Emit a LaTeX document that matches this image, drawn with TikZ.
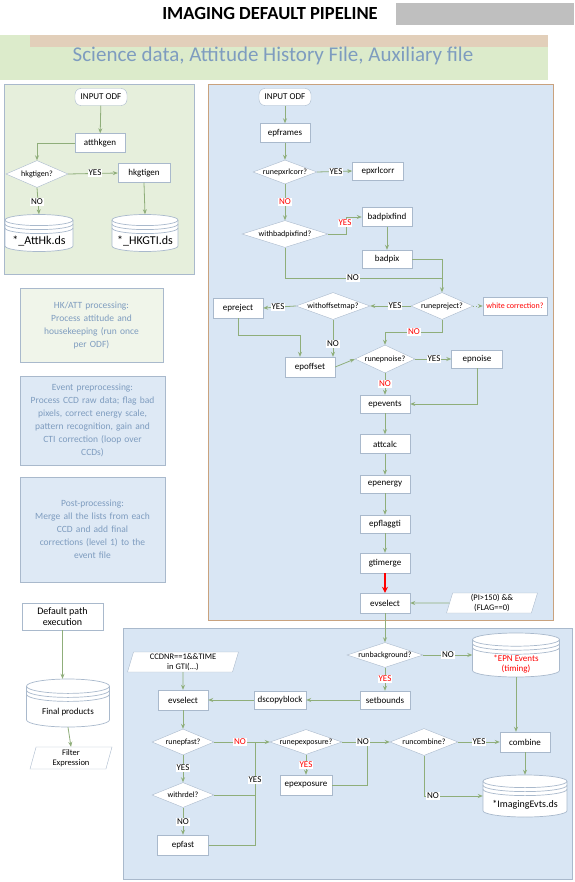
\documentclass[tikz,border=0pt]{standalone}
\usepackage{fontspec}
\setmainfont{Carlito}
\usetikzlibrary{shapes.geometric,arrows.meta}
\definecolor{boxc}{HTML}{A9B9CC}
\definecolor{linec}{HTML}{8FAE7A}
\definecolor{panelblue}{HTML}{D9E6F4}
\definecolor{panelgreen}{HTML}{E6EFDC}
\definecolor{txtblue}{HTML}{7E9CBF}
\definecolor{bannerg}{HTML}{DCEBCB}
\definecolor{bannert}{HTML}{E2CFBA}
\definecolor{titlegrey}{HTML}{BFBFBF}
\newcommand\zw[1]{\makebox[0pt][c]{#1}}
\tikzset{
  box/.style={draw=boxc, fill=white, minimum width=50, minimum height=19, inner sep=1pt, font=\fontsize{9}{10}\selectfont},
  term/.style={box, rounded corners=6pt},
  dia/.style={diamond, aspect=1, draw=boxc, fill=white, inner sep=0pt, font=\fontsize{8}{9}\selectfont},
  para/.style={trapezium, trapezium left angle=72, trapezium right angle=108, trapezium stretches body, draw=boxc, fill=white, inner sep=1pt, align=center, font=\fontsize{8.5}{9.5}\selectfont},
  note/.style={draw=boxc, text=txtblue, align=center, inner sep=3pt, font=\fontsize{9.5}{13}\selectfont},
  lab/.style={fill=white, inner sep=1pt, font=\fontsize{9}{10}\selectfont},
  redlab/.style={lab, text=red},
  arr/.style={draw=linec, line width=0.8pt, -{Stealth[length=5pt,width=4pt]}},
  ln/.style={draw=linec, line width=0.8pt},
}
\newcommand\dbcyl[7]{%
  \pgfmathsetmacro\crx{#4/2}%
  \pgfmathsetmacro\cry{#5*0.15}%
  \pgfmathsetmacro\chh{#5/2}%
  \begin{scope}[shift={(#2,#3)}]
    \draw[draw=boxc, fill=white, line width=0.7pt]
      (-\crx,{-\chh+\cry}) -- (-\crx,{\chh-\cry})
      .. controls (-\crx,{\chh-\cry+0.5523*\cry}) and ({-0.5523*\crx},\chh) .. (0,\chh)
      .. controls ({0.5523*\crx},\chh) and (\crx,{\chh-\cry+0.5523*\cry}) .. (\crx,{\chh-\cry})
      -- (\crx,{-\chh+\cry})
      .. controls (\crx,{-\chh+\cry-0.5523*\cry}) and ({0.5523*\crx},-\chh) .. (0,-\chh)
      .. controls ({-0.5523*\crx},-\chh) and (-\crx,{-\chh+\cry-0.5523*\cry}) .. cycle;
    \foreach \o in {0,4,8}{
      \draw[draw=boxc, line width=0.7pt]
        (-\crx,{-\chh+\cry+\o})
        .. controls (-\crx,{-\chh+\cry+0.5523*\cry+\o}) and ({-0.5523*\crx},{-\chh+2*\cry+\o}) .. (0,{-\chh+2*\cry+\o})
        .. controls ({0.5523*\crx},{-\chh+2*\cry+\o}) and (\crx,{-\chh+\cry+0.5523*\cry+\o}) .. (\crx,{-\chh+\cry+\o});
    }
  \end{scope}
  \node[minimum width=#4, minimum height=#5, inner sep=0pt] (#1) at (#2,#3) {};
  \node[align=center, font=#7] (#1t) at (#2,{#3+\cry+2}) {#6};
}
\begin{document}
\begin{tikzpicture}[x=1pt,y=-1pt]
\useasboundingbox (0,0) rectangle (574,882);
\fill[white] (0,0) rectangle (574,882);

% title
\fill[titlegrey] (395,3) rectangle (574,25);
\draw[draw=white, fill=white] (148,3) rectangle (395,26);
\node[font=\fontsize{18.5}{20}\selectfont\bfseries] (title) at (270,14) {IMAGING DEFAULT PIPELINE};

% banner
\fill[bannerg] (0,35) rectangle (548,80);
\fill[bannert] (30,35) rectangle (548,47);
\node[text=txtblue, font=\fontsize{21}{23}\selectfont] (banner) at (273,56) {Science data, Attitude History File, Auxiliary file};

% panels
\draw[draw=boxc, fill=panelgreen] (4,84) rectangle (194,274);
\draw[draw={rgb,255:red,201;green,162;blue,126}, fill=panelblue] (208,84) rectangle (553,620);
\draw[draw=boxc, fill=panelblue] (123,628) rectangle (572,879);

% ---------- left top panel ----------
\node[term, minimum width=52, minimum height=17] (inodf1) at (101,97) {INPUT ODF};
\node[box] (atthk) at (100,143) {atthkgen};
\node[dia, minimum width=62, minimum height=27] (dHK) at (37,174) {\zw{hkgtigen?}};
\node[box, minimum width=52] (hkgti) at (144,173) {hkgtigen};
\dbcyl{cyl1}{39}{233}{68}{37}{*\_AttHk.ds}{\fontsize{12}{13}\selectfont}
\dbcyl{cyl2}{145}{233}{66}{37}{*\_HKGTI.ds}{\fontsize{12}{13}\selectfont}

% ---------- left notes ----------
\node[note, fill={rgb,255:red,240;green,245;blue,234}, minimum width=143, minimum height=74, text width=135] (tb1) at (91.5,325)
  {HK/ATT processing:\\ Process attitude and\\ housekeeping (run once\\ per ODF)};
\node[note, fill={rgb,255:red,222;green,233;blue,245}, minimum width=145, minimum height=89, text width=137] (tb2) at (92.5,420.5)
  {Event preprocessing:\\ Process CCD raw data; flag bad\\ pixels, correct energy scale,\\ pattern recognition, gain and\\ CTI correction (loop over\\ CCDs)};
\node[note, fill={rgb,255:red,222;green,233;blue,245}, minimum width=145, minimum height=105, text width=137] (tb3) at (92.5,529.5)
  {Post-processing:\\ Merge all the lists from each\\ CCD and add final\\ corrections (level 1) to the\\ event file};

% ---------- left bottom ----------
\node[box, minimum width=81, minimum height=27, align=center, font=\fontsize{10}{11}\selectfont] (defpath) at (62.5,616.5) {Default path\\ execution};
\dbcyl{cyl3}{68}{703}{83}{48}{Final products}{\fontsize{9}{10}\selectfont}
\node[para, minimum width=82, minimum height=22] (filt1) at (71,758) {Filter\\ Expression};

% ---------- main panel ----------
\node[term, minimum width=52, minimum height=17] (inodf2) at (285,97) {INPUT ODF};
\node[box] (epfr) at (285,133) {epframes};
\node[dia, minimum width=64, minimum height=24] (d1) at (285,172) {\zw{runepxrlcorr?}};
\node[box, minimum width=51, minimum height=18] (xrl) at (378,171) {epxrlcorr};
\node[dia, minimum width=86, minimum height=27] (d2) at (285,234) {\zw{withbadpixfind?}};
\node[box] (bpf) at (387,217) {badpixfind};
\node[box, minimum height=18] (bp) at (387,259) {badpix};
\node[box, minimum height=20] (epre) at (238,308) {epreject};
\node[dia, minimum width=74, minimum height=27] (d3) at (333,306) {\zw{withoffsetmap?}};
\node[dia, minimum width=62, minimum height=27] (d4) at (442,306) {\zw{runepreject?}};
\node[box, minimum width=64, minimum height=18, text=red, font=\fontsize{8}{9}\selectfont] (wc) at (515,306) {white correction?};
\node[box, minimum height=20] (eoff) at (310,367) {epoffset};
\node[dia, minimum width=60, minimum height=28] (d5) at (385,359) {\zw{runepnoise?}};
\node[box, minimum width=51, minimum height=18] (noise) at (477,359) {epnoise};
\node[box, minimum height=18] (evts) at (385,404) {epevents};
\node[box] (attc) at (385,444) {attcalc};
\node[box, minimum height=18] (ener) at (385,484) {epenergy};
\node[box, minimum height=18] (flag) at (385,524) {epflaggti};
\node[box, minimum height=20] (gtim) at (385,563) {gtimerge};
\node[box, minimum height=20] (evsel1) at (385,603) {evselect};
\node[para, minimum width=91, minimum height=20] (filt2) at (492,603) {(PI>150) \&\&\\ (FLAG==0)};

% ---------- bottom panel ----------
\node[dia, minimum width=76, minimum height=25] (d6) at (385,655) {\zw{runbackground?}};
\dbcyl{cyl4}{516}{655}{87}{44}{\textcolor{red}{*EPN Events}\\ \textcolor{red}{(timing)}}{\fontsize{9}{10}\selectfont}
\node[box, minimum height=18] (bnds) at (385,700) {setbounds};
\node[para, minimum width=111, minimum height=20] (par2) at (183,662) {CCDNR==1\&\&TIME\\ in GTI(...)};
\node[box, minimum height=20] (evsel2) at (183,700) {evselect};
\node[box, minimum width=52, minimum height=18] (dscp) at (280,700) {dscopyblock};
\node[dia, minimum width=62, minimum height=26] (d7) at (183,742) {\zw{runepfast?}};
\node[dia, minimum width=72, minimum height=25] (d9) at (306,742) {\zw{runepexposure?}};
\node[box, minimum width=52, minimum height=20] (expo) at (306,785) {epexposure};
\node[dia, minimum width=62, minimum height=25] (d8) at (183,795) {\zw{withrdel?}};
\node[box, minimum width=51, minimum height=20] (epfast) at (183,845) {epfast};
\node[dia, minimum width=68, minimum height=27] (d10) at (424,742) {\zw{runcombine?}};
\node[box, minimum height=20] (comb) at (525,742) {combine};
\dbcyl{cyl5}{525}{796}{84}{42}{*ImagingEvts.ds}{\fontsize{10}{11}\selectfont}

% ---------- coordinates ----------
\coordinate (m1) at (442,278);
\coordinate (m2) at (385,332);
\coordinate (j1) at (300,335);
\coordinate (m3) at (367,742);
\coordinate (m4) at (255,795);
\coordinate (m5) at (255,742);

% ---------- connectors ----------
\draw[arr] (inodf1) -- (atthk);
\draw[arr] (atthk.west) -| (dHK.north);
\draw[arr] (dHK.east) -- (hkgti.west);
\draw[arr] (hkgti.south) -- (cyl2.north);
\draw[arr] (dHK.south) -- (cyl1.north);
\draw[arr] (defpath.south) -- (defpath.south |- cyl3.north);
\draw[arr] (cyl3.south) -- (filt1.north);

\draw[arr] (inodf2) -- (epfr);
\draw[arr] (epfr) -- (d1);
\draw[arr] (d1.east) -- (xrl.west);
\draw[arr] (d1.south) -- (d2.north);
\draw[arr] (d2.east) -- ++(18,0) |- (bpf.west);
\draw[arr] (bpf) -- (bp);
\draw[arr] (bp.east) -| (d4.north);
\draw[ln] (d2.south) |- (m1);
\draw[arr] (d4.west) -- (d3.east);
\draw[arr] (d3.west) -- (epre.east);
\draw[arr, dotted] (d4.east) -- (wc.west);
\draw[ln] (d4.south) |- (m2);
\draw[arr] (m2) -- (d5.north);
\draw[ln] (epre.south) |- (j1);
\draw[arr] (j1) -- (j1 |- eoff.north);
\draw[arr] (d3.south) -- (d3.south |- eoff.north);
\draw[arr] (eoff.east) -- (d5.west);
\draw[arr] (d5.east) -- (noise.west);
\draw[arr] (d5.south) -- (evts.north);
\draw[arr] (noise.south) |- (evts.east);
\draw[arr] (evts) -- (attc);
\draw[arr] (attc) -- (ener);
\draw[arr] (ener) -- (flag);
\draw[arr] (flag) -- (gtim);
\draw[red, line width=1.6pt, -{Stealth[length=6pt,width=6pt]}] (gtim) -- (evsel1);
\draw[arr] (filt2.west) -- (evsel1.east);

\draw[arr] (evsel1.south) -- (d6.north);
\draw[arr] (d6.east) -- (cyl4.west);
\draw[arr] (d6.south) -- (bnds.north);
\draw[arr] (bnds.west) -- (dscp.east);
\draw[arr] (dscp.west) -- (evsel2.east);
\draw[arr] (par2.south) -- (evsel2.north);
\draw[arr] (evsel2) -- (d7);
\draw[arr] (d7.south) -- (d8.north);
\draw[arr] (d7.east) -- (d9.west);
\draw[arr] (d9.south) -- (expo.north);
\draw[arr] (d9.east) -- (d10.west);
\draw[ln] (expo.east) -| (m3);
\draw[ln] (d8.east) -- (m4);
\draw[ln] (epfast.east) -| (m5);
\draw[arr] (d8.south) -- (epfast.north);
\draw[arr] (d10.east) -- (comb.west);
\draw[arr] (d10.south) |- (cyl5.west);
\draw[arr] (comb.south) -- (cyl5.north);
\draw[arr] (cyl4.south) -- (cyl4.south |- comb.north);

% ---------- labels ----------
\node[lab] (l1) at (95,173) {YES};
\node[lab] (l2) at (37,202) {NO};
\node[lab] (l3) at (336,172) {YES};
\node[redlab] (l4) at (285,202) {NO};
\node[redlab] (l5) at (345,223) {YES};
\node[lab] (l6) at (353,278) {NO};
\node[lab] (l7) at (278,307) {YES};
\node[lab] (l8) at (395,306) {YES};
\node[redlab] (l9) at (414,332) {NO};
\node[lab] (l10) at (333,344) {NO};
\node[lab] (l11) at (434,359) {YES};
\node[redlab] (l12) at (385,384) {NO};
\node[lab] (l13) at (448,655) {NO};
\node[redlab] (l14) at (385,679) {YES};
\node[redlab] (l15) at (240,742) {NO};
\node[redlab] (l16) at (306,765) {YES};
\node[lab] (l17) at (255,780) {YES};
\node[lab] (l18) at (183,768) {YES};
\node[lab] (l19) at (183,822) {NO};
\node[lab] (l20) at (363,742) {NO};
\node[lab] (l21) at (479,742) {YES};
\node[lab] (l22) at (433,796) {NO};
\end{tikzpicture}
\end{document}
